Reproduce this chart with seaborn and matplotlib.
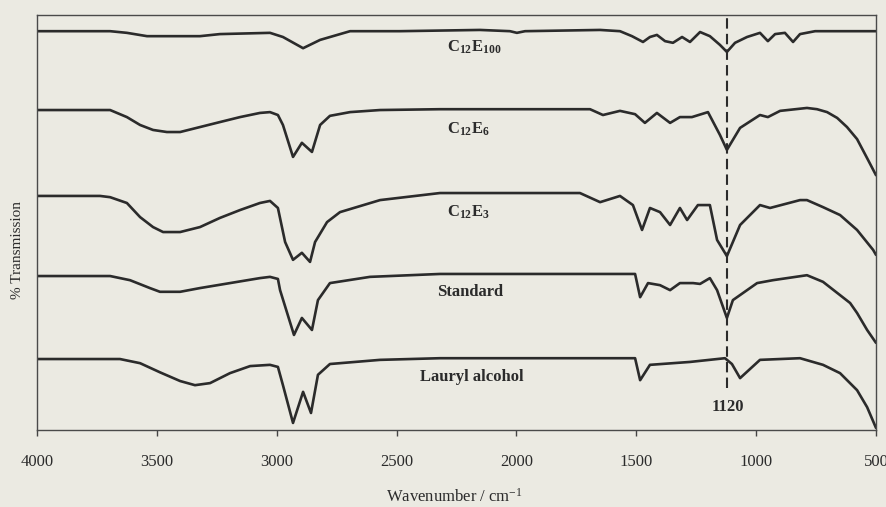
import numpy as np
import pandas as pd
import matplotlib
matplotlib.use("Agg")
import matplotlib.pyplot as plt
import seaborn as sns

# ---- data (wavenumber / cm-1, offset % transmission) ----
wn_c12e100 = [4000, 3695, 3625, 3541, 3320, 3237, 3028, 2974, 2890, 2819, 2694, 2486, 2152, 2027, 1998, 1964,
              1651, 1568, 1518, 1472, 1443, 1414, 1380, 1347, 1309, 1276, 1234, 1193, 1151, 1122, 1088, 1038,
              984, 951, 921, 880, 846, 817, 754, 500]
t_c12e100 = [96.1, 96.1, 95.7, 94.9, 94.9, 95.4, 95.7, 94.7, 92.0, 94.0, 96.1, 96.1, 96.4, 96.1, 95.7, 96.1,
             96.4, 96.1, 94.9, 93.5, 94.7, 95.2, 93.7, 93.3, 94.7, 93.5, 95.9, 94.9, 92.8, 91.1, 93.3, 94.7,
             95.7, 93.7, 95.4, 95.7, 93.5, 95.4, 96.1, 96.1]

wn_c12e6 = [4000, 3695, 3625, 3570, 3516, 3458, 3403, 3320, 3237, 3153, 3070, 3028, 2995, 2974, 2932, 2895,
            2853, 2819, 2778, 2694, 2569, 2319, 1693, 1639, 1568, 1505, 1464, 1414, 1359, 1318, 1268, 1201,
            1151, 1122, 1067, 984, 951, 900, 788, 746, 704, 662, 621, 579, 537, 500]
t_c12e6 = [77.1, 77.1, 75.4, 73.5, 72.3, 71.8, 71.8, 73.0, 74.2, 75.4, 76.4, 76.6, 75.9, 73.5, 65.8, 69.2,
           67.0, 73.5, 75.7, 76.6, 77.1, 77.3, 77.3, 75.9, 76.9, 76.1, 74.0, 76.4, 74.0, 75.4, 75.4, 76.6,
           71.1, 67.5, 72.8, 75.9, 75.4, 76.9, 77.6, 77.3, 76.6, 75.2, 73.0, 70.1, 65.5, 61.4]

wn_c12e3 = [4000, 3737, 3695, 3625, 3570, 3516, 3474, 3403, 3320, 3237, 3153, 3070, 3028, 2995, 2965, 2932,
            2895, 2861, 2840, 2790, 2736, 2569, 2319, 1735, 1651, 1568, 1514, 1476, 1443, 1401, 1359, 1318,
            1288, 1243, 1193, 1163, 1122, 1067, 984, 942, 817, 788, 721, 650, 579, 512, 500]
t_c12e3 = [56.4, 56.4, 56.1, 54.7, 51.3, 48.9, 47.7, 47.7, 48.9, 51.1, 53.0, 54.7, 55.2, 53.5, 45.3, 41.0,
           42.7, 40.5, 45.3, 50.1, 52.5, 55.4, 57.1, 57.1, 54.9, 56.4, 54.2, 48.2, 53.5, 52.5, 49.4, 53.5,
           50.6, 54.2, 54.2, 45.8, 41.9, 49.4, 54.2, 53.5, 55.4, 55.4, 53.7, 51.8, 48.2, 43.4, 42.2]

wn_standard = [4000, 3695, 3612, 3529, 3487, 3403, 3320, 3195, 3070, 3028, 2995, 2986, 2928, 2895, 2853, 2828,
               2778, 2611, 2319, 1505, 1484, 1451, 1401, 1359, 1318, 1263, 1234, 1193, 1163, 1122, 1097, 996,
               930, 788, 721, 650, 608, 579, 537, 500]
t_standard = [37.1, 37.1, 36.1, 34.2, 33.3, 33.3, 34.2, 35.4, 36.6, 36.9, 36.4, 33.7, 22.9, 27.0, 24.1, 31.3,
              35.4, 36.9, 37.6, 37.6, 32.0, 35.4, 34.9, 33.7, 35.4, 35.4, 35.2, 36.6, 33.7, 27.0, 31.3, 35.4,
              36.1, 37.3, 35.7, 32.5, 30.6, 28.2, 24.1, 21.0]

wn_lauryl = [4000, 3654, 3570, 3487, 3403, 3341, 3278, 3195, 3111, 3028, 2995, 2974, 2932, 2890, 2857, 2828,
             2778, 2569, 2319, 1505, 1484, 1443, 1276, 1130, 1101, 1067, 984, 817, 721, 650, 579, 537, 500]
t_lauryl = [17.1, 17.1, 16.1, 13.9, 11.8, 10.8, 11.3, 13.7, 15.4, 15.7, 15.2, 10.8, 1.7, 9.2, 4.1, 13.3,
            15.9, 16.9, 17.3, 17.3, 12.0, 15.7, 16.4, 17.3, 15.9, 12.5, 16.9, 17.3, 15.7, 13.7, 9.6, 5.5, 0.5]

series_names = ["C12E100", "C12E6", "C12E3", "Standard", "Lauryl alcohol"]
label_texts = [r"$\mathbf{C_{12}E_{100}}$", r"$\mathbf{C_{12}E_{6}}$", r"$\mathbf{C_{12}E_{3}}$",
               "Standard", "Lauryl alcohol"]
label_wn = [2290, 2290, 2290, 2331, 2402]
label_t = [92.3, 72.5, 52.5, 33.3, 12.8]

marker_wn = 1120
marker_bottom = 10.1
marker_label_t = 5.5
x_ticks = [4000, 3500, 3000, 2500, 2000, 1500, 1000, 500]

# ---- build table ----
frames = []
for name, wn, t in zip(series_names,
                       [wn_c12e100, wn_c12e6, wn_c12e3, wn_standard, wn_lauryl],
                       [t_c12e100, t_c12e6, t_c12e3, t_standard, t_lauryl]):
    frames.append(pd.DataFrame({"wavenumber": wn, "T": t, "sample": name}))
df = pd.concat(frames, ignore_index=True)

# ---- style ----
sns.set_style("white")
plt.rcParams["font.family"] = ["Liberation Serif", "DejaVu Serif"]
plt.rcParams["mathtext.fontset"] = "custom"
plt.rcParams["mathtext.rm"] = "Liberation Serif"
plt.rcParams["mathtext.bf"] = "Liberation Serif:bold"
plt.rcParams["mathtext.it"] = "Liberation Serif:italic"

bg = "#ebeae2"
ink = "#2b2b2b"

fig = plt.figure(figsize=(8.87, 5.07), dpi=100, facecolor=bg)
ax = fig.add_axes([37 / 887, 77 / 507, 839 / 887, 415 / 507])
ax.set_facecolor(bg)

sns.lineplot(data=df, x="wavenumber", y="T", hue="sample", units="sample", estimator=None,
             palette=[ink] * len(series_names), legend=False, linewidth=1.9, ax=ax, sort=True)
for ln in ax.get_lines():
    ln.set_solid_joinstyle("round")

ax.vlines(marker_wn, marker_bottom, 100, colors=ink, linestyles=(0, (5, 2.5)), linewidth=1.5)
ax.text(marker_wn, marker_label_t, "1120", ha="center", va="center", fontsize=12,
        fontweight="bold", color=ink)

for txt, xw, yt in zip(label_texts, label_wn, label_t):
    ax.text(xw, yt, txt, ha="left", va="center", fontsize=12, fontweight="bold", color=ink)

ax.set_xlim(4000, 500)
ax.set_ylim(0, 100)
ax.set_xticks(x_ticks)
ax.set_xticklabels([str(v) for v in x_ticks])
ax.set_yticks([])
ax.tick_params(axis="x", direction="out", length=4, width=1, color="#444444",
               labelsize=12, pad=13, labelcolor=ink, bottom=True)
for s in ax.spines.values():
    s.set_color("#4a4a4a")
    s.set_linewidth(1.0)
ax.set_xlabel("")
ax.set_ylabel("")

fig.text(454 / 887, 1 - 497 / 507, r"Wavenumber / cm$^{-1}$", ha="center", va="center",
         fontsize=12, color=ink)
fig.text(18 / 887, 1 - 250 / 507, "% Transmission", ha="center", va="center", rotation=90,
         fontsize=11, color=ink)

fig.savefig("out.png", dpi=100, facecolor=bg)
